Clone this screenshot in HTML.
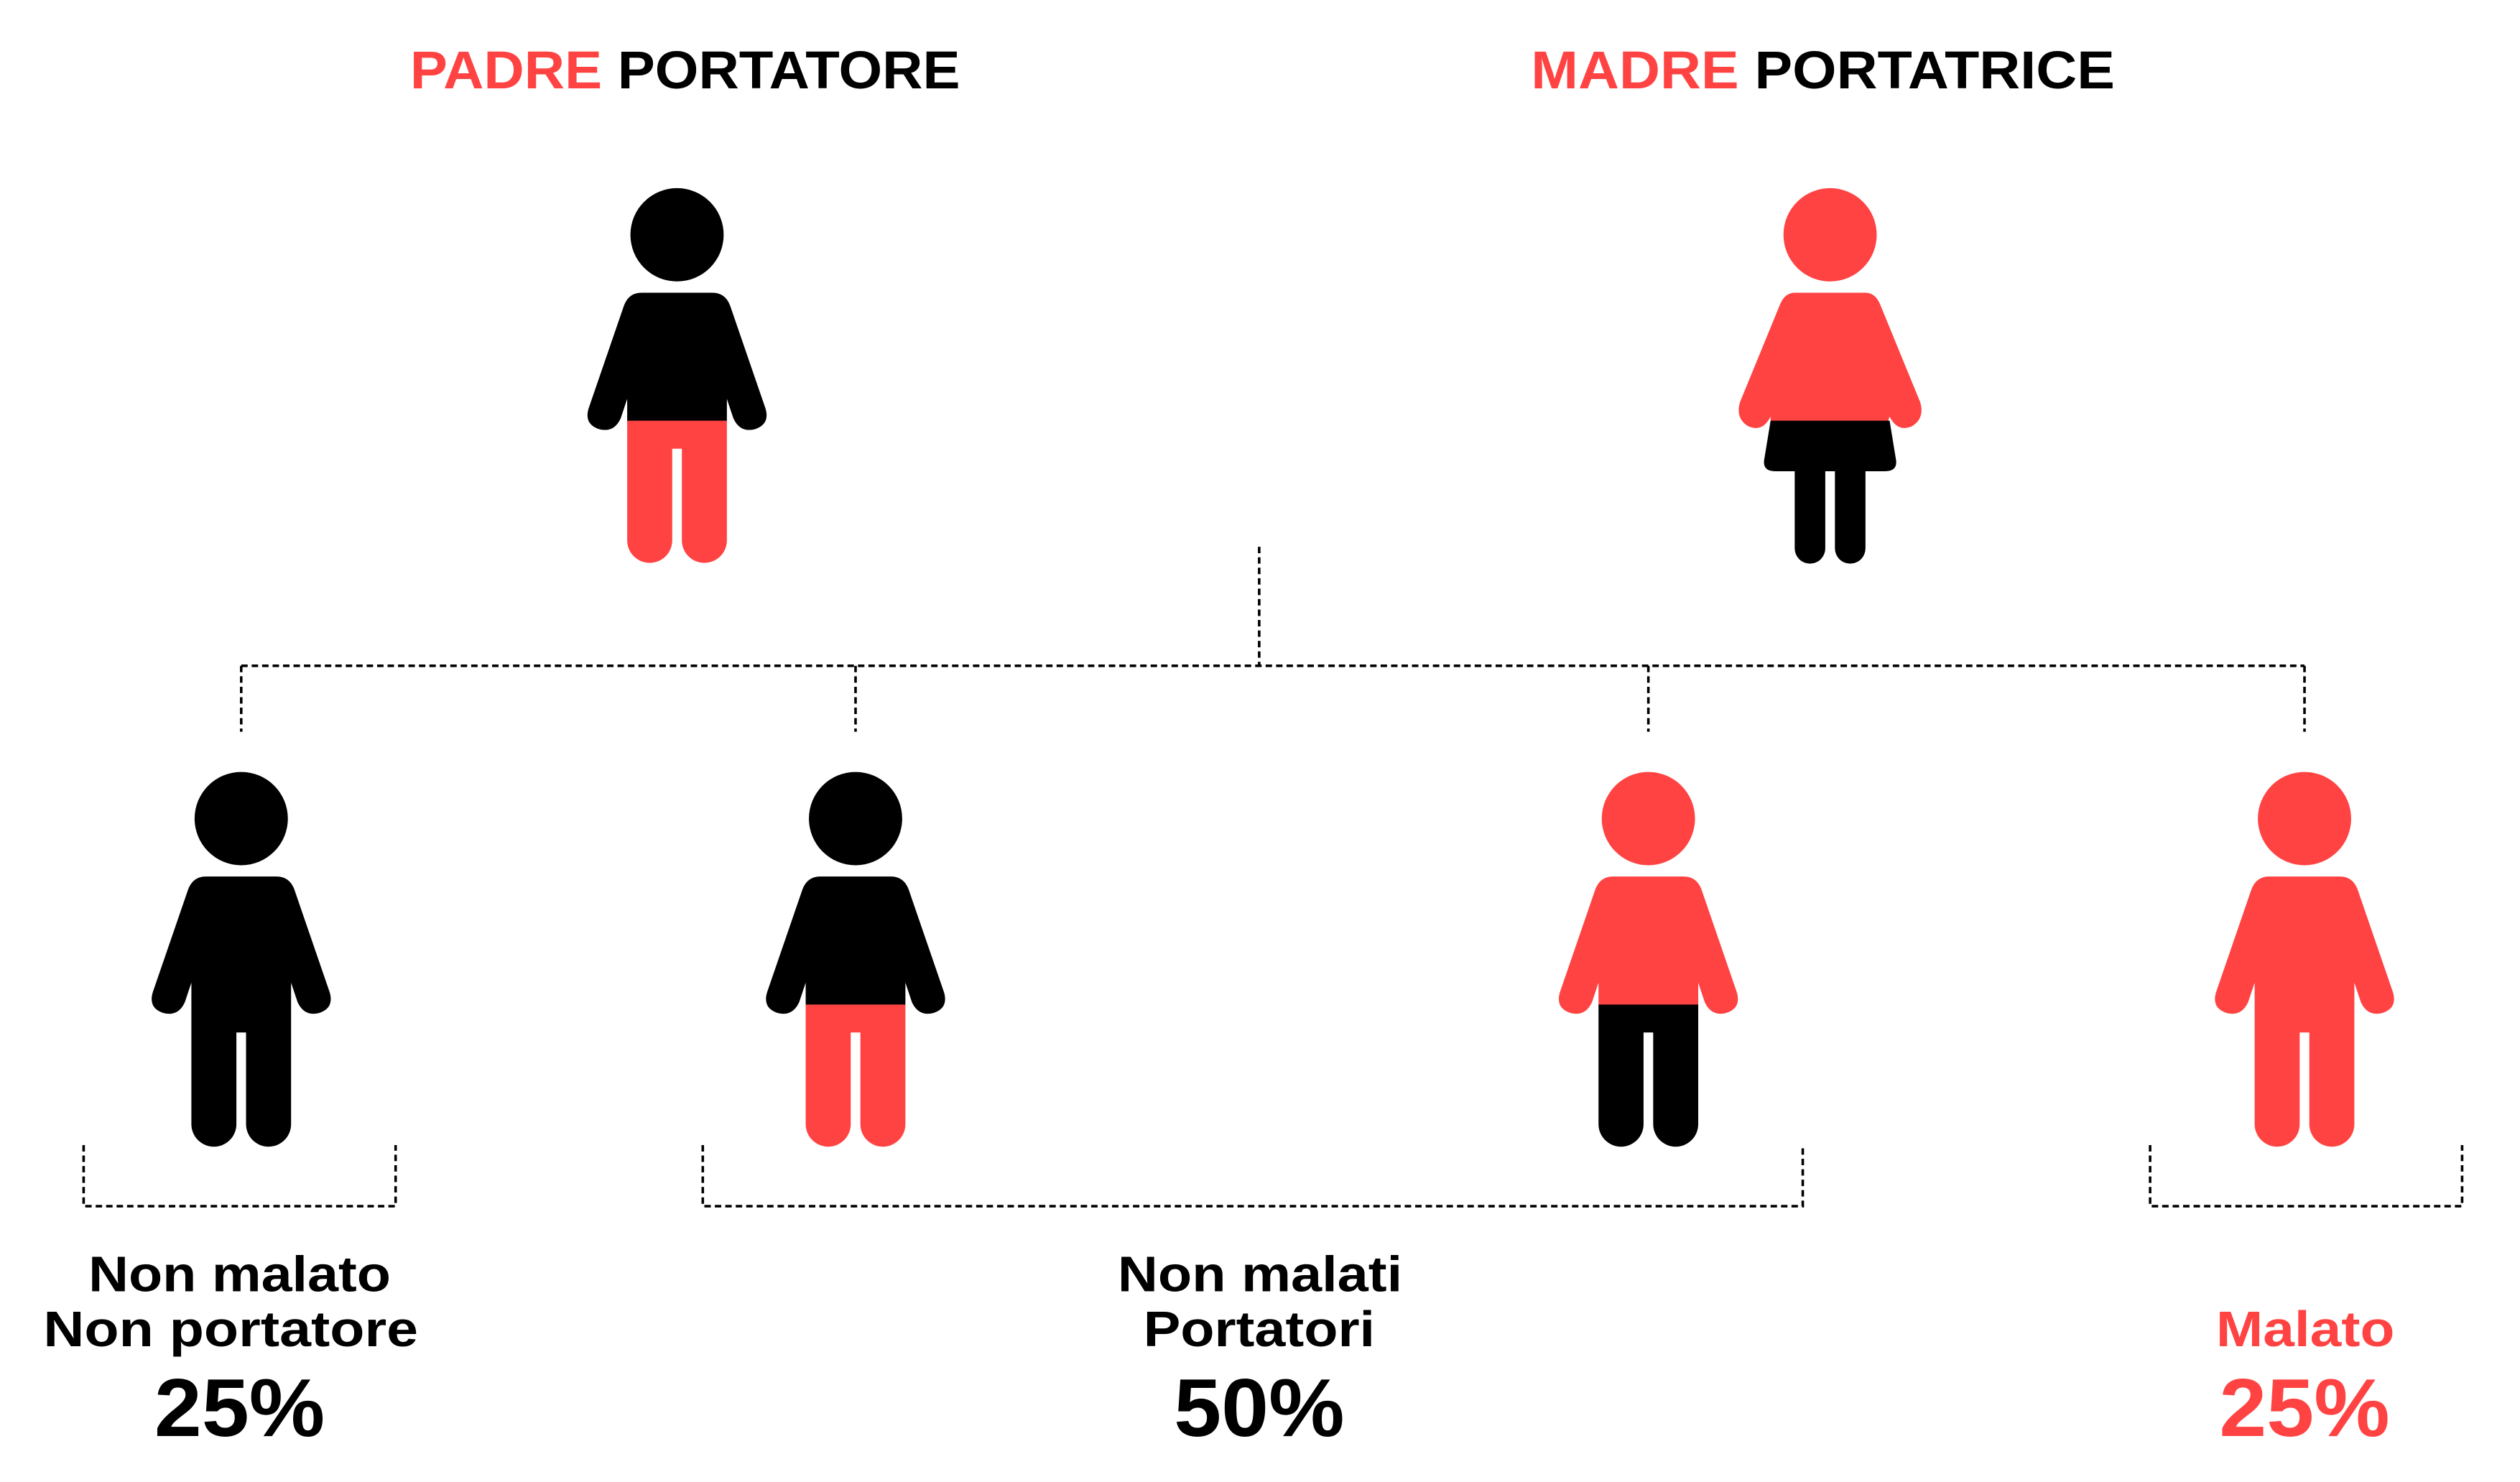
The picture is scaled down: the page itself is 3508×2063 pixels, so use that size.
<!DOCTYPE html>
<html><head><meta charset="utf-8"><style>
html,body{margin:0;padding:0;background:#fff;}
svg{display:block;}
text{font-family:"Liberation Sans",sans-serif;font-weight:bold;}
</style></head><body>
<svg width="3508" height="2063" viewBox="0 0 1567 921.5" preserveAspectRatio="none" xmlns="http://www.w3.org/2000/svg">
<defs>
<g id="top">
  <circle cx="0" cy="0" r="29"/>
  <path d="M-22,36 L22,36 Q30,36 33,44 L55,108 Q58,118 48,121 Q39,123 35,114 L31,102 L31,116 L-31,116 L-31,102 L-35,114 Q-39,123 -48,121 Q-58,118 -55,108 L-33,44 Q-30,36 -22,36 Z"/>
</g>
<g id="legs">
  <path d="M-31,115.6 L31,115.6 L31,190 A14,14 0 0 1 3,190 L3,133 L-3,133 L-3,190 A14,14 0 0 1 -31,190 Z"/>
</g>
</defs>

<text x="255" y="55" font-size="33" textLength="342" lengthAdjust="spacingAndGlyphs"><tspan fill="#FF4343">PADRE</tspan> <tspan fill="#000">PORTATORE</tspan></text>
<text x="952" y="55" font-size="33" textLength="363" lengthAdjust="spacingAndGlyphs"><tspan fill="#FF4343">MADRE</tspan> <tspan fill="#000">PORTATRICE</tspan></text>

<g transform="translate(421,146)">
  <use href="#top" fill="#000"/>
  <use href="#legs" fill="#FF4343"/>
</g>

<g transform="translate(1138,146)">
  <circle cx="0" cy="0" r="29" fill="#FF4343"/>
  <path fill="#FF4343" d="M-22,36 L22,36 Q28,36 31,43 L56,104 Q59,114 51,119 Q42,123 37,113 L36,116 L-37,116 L-37,113 Q-42,123 -51,119 Q-59,114 -56,104 L-31,43 Q-28,36 -22,36 Z"/>
  <path fill="#000" d="M-37,115.6 L37,115.6 L41,140 Q42,147 34,147 L-34,147 Q-42,147 -41,140 Z"/>
  <path fill="#000" d="M-22,146 L-3,146 L-3,195 A9.5,9.5 0 0 1 -22,195 Z M3,146 L22,146 L22,195 A9.5,9.5 0 0 1 3,195 Z"/>
</g>

<g transform="translate(150,509)"><use href="#top" fill="#000"/><use href="#legs" fill="#000"/></g>
<g transform="translate(532,509)"><use href="#top" fill="#000"/><use href="#legs" fill="#FF4343"/></g>
<g transform="translate(1025,509)"><use href="#top" fill="#FF4343"/><use href="#legs" fill="#000"/></g>
<g transform="translate(1433,509)"><use href="#top" fill="#FF4343"/><use href="#legs" fill="#FF4343"/></g>

<g stroke="#000" stroke-width="1.6" fill="none" stroke-dasharray="4,2.5">
  <path d="M783,340 L783,414"/>
  <path d="M150,414 L1433,414"/>
  <path d="M150,414 L150,455 M532,414 L532,455 M1025,414 L1025,455 M1433,414 L1433,455"/>
  <path d="M52,712 L52,750 L246,750 L246,712"/>
  <path d="M437,712 L437,750 L1121,750 L1121,712"/>
  <path d="M1337,712 L1337,750 L1531,750 L1531,712"/>
</g>

<g font-size="31" fill="#000">
  <text x="55" y="803" textLength="188" lengthAdjust="spacingAndGlyphs">Non malato</text>
  <text x="27" y="837" textLength="233" lengthAdjust="spacingAndGlyphs">Non portatore</text>
  <text x="695" y="803" textLength="177" lengthAdjust="spacingAndGlyphs">Non malati</text>
  <text x="711" y="837" textLength="144" lengthAdjust="spacingAndGlyphs">Portatori</text>
  <text x="1378" y="837" fill="#FF4343" textLength="111" lengthAdjust="spacingAndGlyphs">Malato</text>
</g>
<g font-size="51">
  <text x="96" y="893" fill="#000" textLength="106" lengthAdjust="spacingAndGlyphs">25%</text>
  <text x="730" y="893" fill="#000" textLength="106" lengthAdjust="spacingAndGlyphs">50%</text>
  <text x="1380" y="893" fill="#FF4343" textLength="106" lengthAdjust="spacingAndGlyphs">25%</text>
</g>
</svg>
</body></html>
